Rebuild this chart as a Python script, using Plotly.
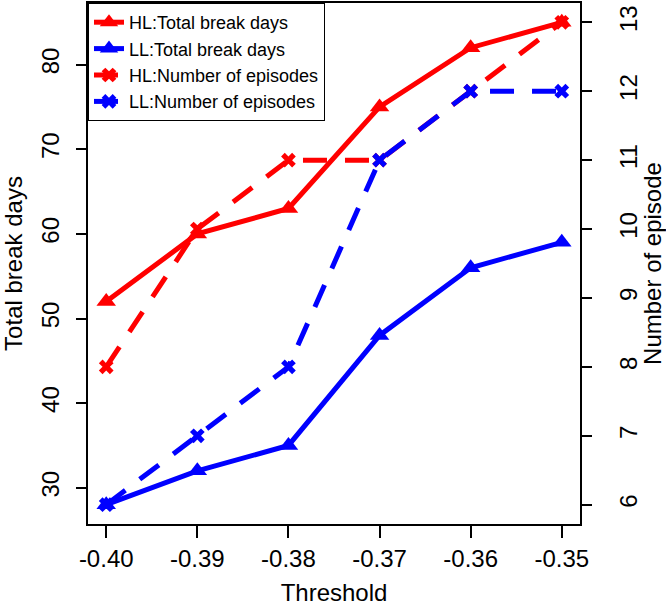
import plotly.graph_objects as go

thresholds = [-0.40, -0.39, -0.38, -0.37, -0.36, -0.35]
x_tick_labels = ["-0.40", "-0.39", "-0.38", "-0.37", "-0.36", "-0.35"]
hl_break_days = [52, 60, 63, 75, 82, 85]
ll_break_days = [28, 32, 35, 48, 56, 59]
hl_episodes = [8, 10, 11, 11, 12, 13]
ll_episodes = [6, 7, 8, 11, 12, 12]
left_ticks = [30, 40, 50, 60, 70, 80]
right_ticks = [6, 7, 8, 9, 10, 11, 12, 13]

RED = "#FF0000"
BLUE = "#0000FF"
FONT = "Liberation Sans, Arial, sans-serif"

fig = go.Figure()
fig.add_trace(go.Scatter(
    x=thresholds, y=hl_break_days, name="HL:Total break days",
    mode="lines+markers", line=dict(color=RED, width=5),
    marker=dict(symbol="triangle-up", size=17, color=RED)))
fig.add_trace(go.Scatter(
    x=thresholds, y=ll_break_days, name="LL:Total break days",
    mode="lines+markers", line=dict(color=BLUE, width=5),
    marker=dict(symbol="triangle-up", size=17, color=BLUE)))
fig.add_trace(go.Scatter(
    x=thresholds, y=hl_episodes, name="HL:Number of episodes", yaxis="y2",
    mode="lines+markers", line=dict(color=RED, width=5, dash="24px,18px"),
    marker=dict(symbol="x", size=13, color=RED)))
fig.add_trace(go.Scatter(
    x=thresholds, y=ll_episodes, name="LL:Number of episodes", yaxis="y2",
    mode="lines+markers", line=dict(color=BLUE, width=5, dash="24px,18px"),
    marker=dict(symbol="x", size=13, color=BLUE)))

axis_font = dict(family=FONT, size=24, color="black")

fig.update_layout(
    width=666, height=606,
    margin=dict(l=88, r=86, t=3, b=82, autoexpand=False),
    paper_bgcolor="white", plot_bgcolor="white",
    font=dict(family=FONT, color="black"),
    showlegend=True,
    legend=dict(x=0, y=1, xanchor="left", yanchor="top",
                bordercolor="black", borderwidth=1, bgcolor="white",
                font=dict(family=FONT, size=18), tracegroupgap=0),
    xaxis=dict(range=[-0.402, -0.348], tickvals=thresholds, ticktext=x_tick_labels,
               showgrid=False, zeroline=False, showline=True, mirror=True,
               linecolor="black", linewidth=1.5, ticks="outside", ticklen=12,
               tickwidth=2, tickcolor="black", tickfont=axis_font,
               title=dict(text="Threshold", font=axis_font, standoff=14)),
    yaxis=dict(range=[25.72, 87.28], tickvals=left_ticks,
               showgrid=False, zeroline=False, showline=True, mirror=True,
               linecolor="black", linewidth=1.5, ticks="outside", ticklen=10,
               tickwidth=2, tickcolor="black", tickfont=axis_font, tickangle=-90,
               ticklabelstandoff=8,
               title=dict(text="Total break days", font=axis_font, standoff=10)),
    yaxis2=dict(range=[5.72, 13.28], tickvals=right_ticks, overlaying="y", side="right",
                showgrid=False, zeroline=False, showline=True,
                linecolor="black", linewidth=1.5, ticks="outside", ticklen=10,
                tickwidth=2, tickcolor="black", tickfont=axis_font, tickangle=-90,
                ticklabelstandoff=16,
                title=dict(text="Number of episode", font=axis_font, standoff=0)),
)

fig.write_html("out.html", config={"displayModeBar": False},
               post_script="document.body.style.margin='0px';")
